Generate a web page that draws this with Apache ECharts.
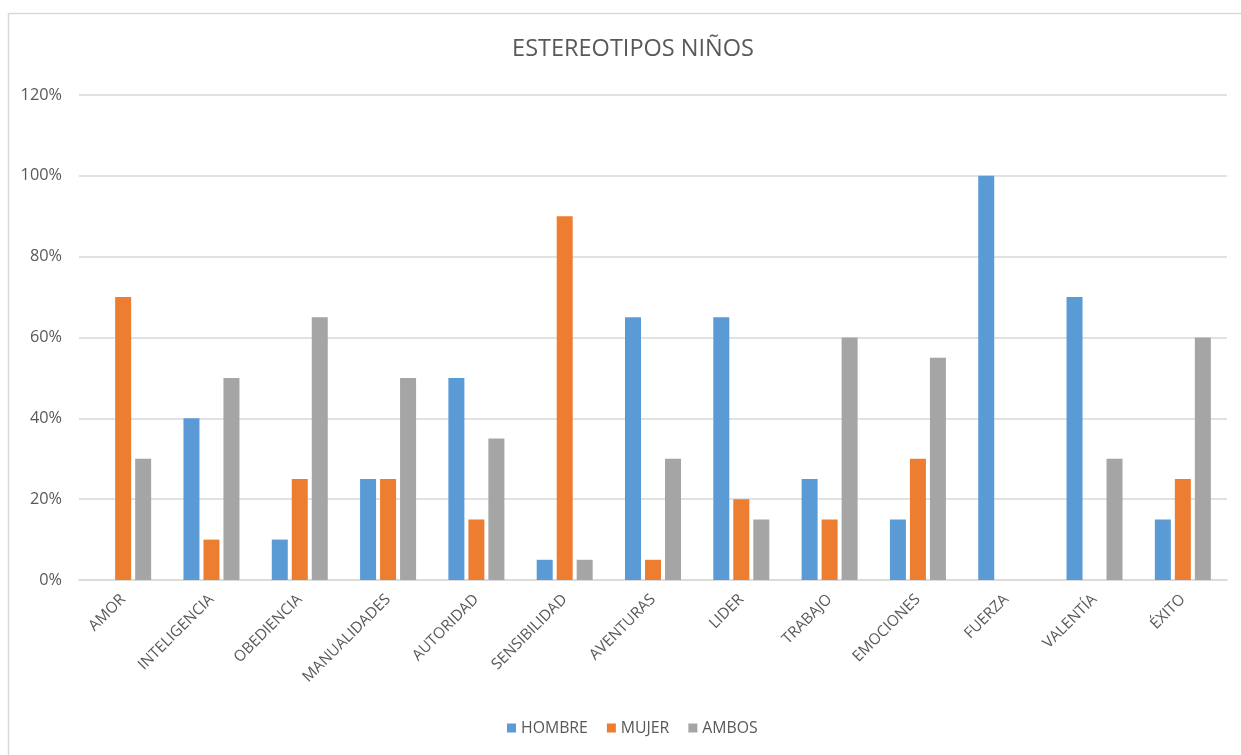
<!DOCTYPE html>
<html>
<head>
<meta charset="utf-8">
<script src="https://cdn.jsdelivr.net/npm/echarts@6/dist/echarts.min.js"></script>
<style>
  html, body { margin: 0; padding: 0; background: #fff; }
  #chart { width: 1241px; height: 755px; }
</style>
</head>
<body>
<div id="chart"></div>
<script>
// Stereotype survey results (percent of answers)
const categories = ['AMOR', 'INTELIGENCIA', 'OBEDIENCIA', 'MANUALIDADES', 'AUTORIDAD', 'SENSIBILIDAD',
  'AVENTURAS', 'LIDER', 'TRABAJO', 'EMOCIONES', 'FUERZA', 'VALENTÍA', 'ÉXITO'];
const hombre = [0, 40, 10, 25, 50, 5, 65, 65, 25, 15, 100, 70, 15];
const mujer  = [70, 10, 25, 25, 15, 90, 5, 20, 15, 30, 0, 0, 25];
const ambos  = [30, 50, 65, 50, 35, 5, 30, 15, 60, 55, 0, 30, 60];
const yTicks = [0, 20, 40, 60, 80, 100, 120];

const textColor = '#595959';
const font = 'Open Sans';

const chart = echarts.init(document.getElementById('chart'), null, { renderer: 'canvas' });

const barSeries = (name, data, color) => ({
  name, type: 'bar', data, barWidth: 16, barGap: '25%',
  itemStyle: { color }
});

chart.setOption({
  animation: false,
  backgroundColor: '#fff',
  textStyle: { fontFamily: font, color: textColor },
  graphic: [{
    type: 'rect', silent: true, z: -1,
    shape: { x: 8.5, y: 13.5, width: 1400, height: 900 },
    style: { fill: 'none', stroke: '#d9d9d9', lineWidth: 1.5 }
  }],
  title: {
    text: 'ESTEREOTIPOS NIÑOS',
    left: 628, top: 32, textAlign: 'center',
    textStyle: { fontFamily: font, fontSize: 23.5, fontWeight: 'normal', color: textColor }
  },
  legend: {
    data: ['HOMBRE', 'MUJER', 'AMBOS'],
    left: 507, top: 720, padding: 0,
    itemWidth: 9, itemHeight: 9, itemGap: 19,
    icon: 'rect',
    textStyle: { fontFamily: font, fontSize: 15.8, color: textColor }
  },
  grid: { left: 79, right: 14, top: 95, bottom: 175, containLabel: false },
  xAxis: {
    type: 'category', data: categories,
    axisLine: { lineStyle: { color: '#d9d9d9', width: 1.5 } },
    axisTick: { show: false },
    axisLabel: {
      rotate: 45, interval: 0, margin: 17,
      fontFamily: font, fontSize: 15.3, color: textColor
    }
  },
  yAxis: {
    type: 'value', min: 0, max: 120, interval: 20,
    axisLine: { show: false }, axisTick: { show: false },
    splitLine: { lineStyle: { color: '#d9d9d9', width: 1.5 } },
    axisLabel: {
      margin: 17, fontFamily: font, fontSize: 16.3, color: textColor,
      formatter: v => yTicks.includes(v) ? v + '%' : ''
    }
  },
  series: [
    barSeries('HOMBRE', hombre, '#5B9BD5'),
    barSeries('MUJER', mujer, '#ED7D31'),
    barSeries('AMBOS', ambos, '#A5A5A5')
  ]
});
</script>
</body>
</html>
